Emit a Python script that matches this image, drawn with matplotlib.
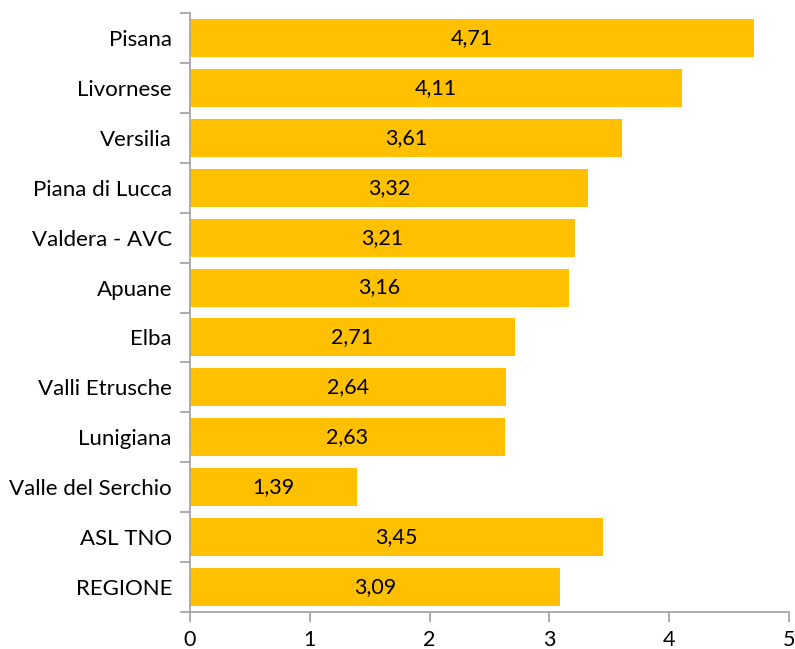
import matplotlib
matplotlib.use("Agg")
import matplotlib.pyplot as plt
from matplotlib.ticker import FixedLocator

categories = ["Pisana", "Livornese", "Versilia", "Piana di Lucca", "Valdera - AVC",
              "Apuane", "Elba", "Valli Etrusche", "Lunigiana", "Valle del Serchio",
              "ASL TNO", "REGIONE"]
values = [4.71, 4.11, 3.61, 3.32, 3.21, 3.16, 2.71, 2.64, 2.63, 1.39, 3.45, 3.09]
xticks = [0, 1, 2, 3, 4, 5]

plt.rcParams['font.family'] = ['Lato', 'DejaVu Sans']

fig = plt.figure(figsize=(7.95, 6.49), dpi=100)
ax = fig.add_axes([190/795, 37/649, 599/795, 599/649])

n = len(categories)
ypos = list(range(n))
ax.barh(ypos, values, height=0.76, color="#FFC000", zorder=2)
for y, v in zip(ypos, values):
    ax.text(v/2, y, f"{v:.2f}".replace(".", ","), ha="center", va="center",
            fontsize=15.5, color="#000000")

ax.set_ylim(n - 0.5, -0.5)
ax.set_xlim(0, 5)
ax.set_xticks(xticks)
ax.set_xticklabels([str(t) for t in xticks])
ax.yaxis.set_major_locator(FixedLocator([i - 0.5 for i in range(n + 1)]))
ax.yaxis.set_minor_locator(FixedLocator(ypos))
ax.set_yticklabels([], minor=False)
ax.set_yticklabels(categories, minor=True)
ax.tick_params(axis="y", which="major", length=7, width=1.3, color="#A6A6A6", direction="out")
ax.tick_params(axis="y", which="minor", length=0, pad=13, labelsize=16, labelcolor="#000000")
ax.tick_params(axis="x", length=7.5, width=1.3, color="#A6A6A6", direction="out",
               labelsize=15.5, labelcolor="#000000", pad=5.5)

for s in ["top", "right"]:
    ax.spines[s].set_visible(False)
for s in ["left", "bottom"]:
    ax.spines[s].set_color("#A6A6A6")
    ax.spines[s].set_linewidth(1.3)

fig.savefig("out.png", dpi=100)
